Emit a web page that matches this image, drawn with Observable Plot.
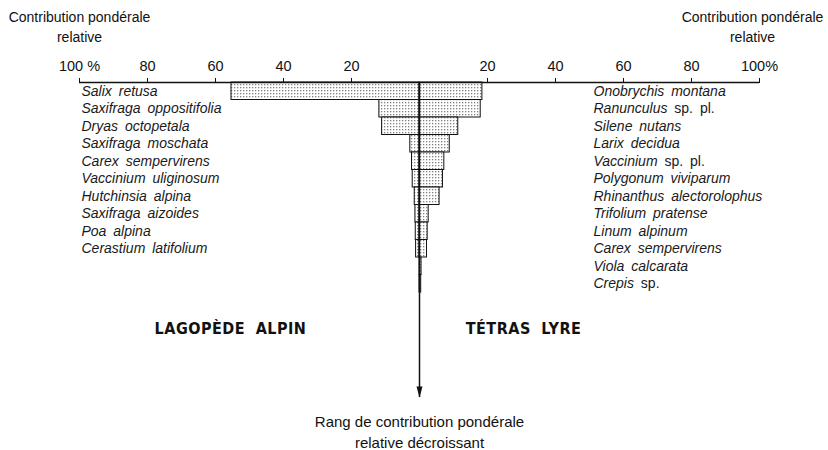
<!DOCTYPE html>
<html><head><meta charset="utf-8">
<script src="https://cdn.jsdelivr.net/npm/d3@7"></script>
<script src="https://cdn.jsdelivr.net/npm/@observablehq/plot@0.6"></script>
<style>body{margin:0;background:#fff} svg{display:block}</style>
</head><body><div id="chart"></div>
<script>
// Lagopède alpin (left side), ranked by decreasing relative weight contribution (%)
const lagopedeSpecies = ["Salix retusa", "Saxifraga oppositifolia", "Dryas octopetala", "Saxifraga moschata", "Carex sempervirens", "Vaccinium uliginosum", "Hutchinsia alpina", "Saxifraga aizoides", "Poa alpina", "Cerastium latifolium"];
const lagopedeValues = [55.3, 11.8, 11.0, 2.7, 2.2, 2.0, 1.4, 1.2, 1.1, 1.0];
// Tétras lyre (right side)
const tetrasSpecies = ["Onobrychis montana", "Ranunculus sp. pl.", "Silene nutans", "Larix decidua", "Vaccinium sp. pl.", "Polygonum viviparum", "Rhinanthus alectorolophus", "Trifolium pratense", "Linum alpinum", "Carex sempervirens", "Viola calcarata", "Crepis sp."];
const tetrasValues = [18.5, 18.0, 11.4, 8.9, 7.3, 6.9, 5.9, 2.7, 2.4, 2.2, 0.6, 0.5];
// Axis ticks (left side negative = Lagopède, right side positive = Tétras)
const tickValues = [-100, -80, -60, -40, -20, 20, 40, 60, 80, 100];
const groupLabels = ["LAGOPÈDE ALPIN", "TÉTRAS LYRE"];
const axisTitle = "Contribution pondérale\nrelative";
const rankTitle = "Rang de contribution pondérale\nrelative décroissant";
const rankAxisEnd = 18;

const rows = [
  ...lagopedeValues.map((v, i) => ({rank: i, value: -v})),
  ...tetrasValues.map((v, i) => ({rank: i, value: v}))
];
const lagLabels = lagopedeSpecies.map((name, i) => ({name, rank: i}));
const tetLabels = tetrasSpecies.map((name, i) => ({name, rank: i}));

const arrowHead = {draw(ctx) { ctx.moveTo(0, 0); ctx.lineTo(-3, -11); ctx.lineTo(3, -11); ctx.closePath(); }};

const chart = Plot.plot({
  width: 828, height: 450,
  marginTop: 82, marginBottom: 53, marginLeft: 79, marginRight: 69,
  style: {fontFamily: "'Liberation Sans Narrow', 'Liberation Sans', sans-serif", fontSize: "14.5px", color: "#111", background: "#fff"},
  x: {domain: [-100, 100], axis: "top", ticks: tickValues,
      tickFormat: d => d === -100 ? "100 %" : d === 100 ? "100%" : String(Math.abs(d)),
      tickSize: 5, tickPadding: 7, label: null},
  y: {domain: [0, rankAxisEnd], reverse: true, axis: null},
  marks: [
    Plot.rect(rows, {x1: "value", x2: () => 0, y1: d => d.rank, y2: d => d.rank + 1,
      fill: "url(#stipple)", stroke: "#111", strokeWidth: 1}),
    Plot.ruleY([0], {stroke: "#111", strokeWidth: 1.5}),
    Plot.ruleX([0], {y1: () => 0, y2: () => rankAxisEnd, stroke: "#111", strokeWidth: 1.5}),
    Plot.dot([0], {x: () => 0, y: () => rankAxisEnd, symbol: arrowHead, fill: "#111", stroke: "none"}),
    Plot.text(lagLabels, {text: "name", y: d => d.rank + 0.5, frameAnchor: "left", textAnchor: "start", dx: 2,
      fontStyle: "italic", fontSize: 14, fill: "#1a1a1a"}),
    Plot.text(tetLabels, {text: "name", y: d => d.rank + 0.5, frameAnchor: "right", textAnchor: "start", dx: -166,
      fontStyle: "italic", fontSize: 14, fill: "#1a1a1a"}),
    Plot.text([axisTitle], {frameAnchor: "top-left", textAnchor: "middle", lineAnchor: "middle", dy: -57, lineHeight: 1.4, fontSize: 14}),
    Plot.text([axisTitle], {frameAnchor: "top-right", textAnchor: "middle", lineAnchor: "middle", dx: -7, dy: -57, lineHeight: 1.4, fontSize: 14}),
    Plot.text([groupLabels[0]], {frameAnchor: "left", textAnchor: "middle", dx: 151, dy: 88.5, fontFamily: "'DejaVu Sans Condensed', sans-serif", fontWeight: "bold", fontSize: 16}),
    Plot.text([groupLabels[1]], {frameAnchor: "right", textAnchor: "middle", dx: -236, dy: 88.5, fontFamily: "'DejaVu Sans Condensed', sans-serif", fontWeight: "bold", fontSize: 16}),
    Plot.text([rankTitle], {frameAnchor: "bottom", textAnchor: "middle", dx: 0, dy: 33, lineAnchor: "middle", lineHeight: 1.4, fontSize: 15})
  ]
});

const svg = d3.select(chart);
const defs = svg.insert("defs", ":first-child");
const p = defs.append("pattern").attr("id", "stipple").attr("width", 3).attr("height", 3).attr("patternUnits", "userSpaceOnUse");
p.append("rect").attr("width", 3).attr("height", 3).attr("fill", "#fff");
p.append("rect").attr("width", 1.3).attr("height", 1.3).attr("fill", "#808080");

svg.selectAll("text").each(function() {
  const t = this.textContent;
  if (groupLabels.includes(t)) d3.select(this).style("letter-spacing", "0.5px").style("word-spacing", "5px");
  const m = t.match(/^(.*?)\s+(sp\.(?:\s+pl\.)?)$/);
  if (m && this.children.length === 0) {
    const s = d3.select(this).text(null);
    s.append("tspan").text(m[1] + " ");
    s.append("tspan").attr("font-style", "normal").text(m[2]);
  }
});
svg.selectAll("text").filter(function() { return /^(Salix|Onobrychis|Saxifraga|Dryas|Carex|Vaccinium|Hutchinsia|Poa|Cerastium|Ranunculus|Silene|Larix|Polygonum|Rhinanthus|Trifolium|Linum|Viola|Crepis)/.test(this.textContent); })
  .style("word-spacing", "3px");

document.getElementById("chart").append(chart);
</script>
</body></html>
